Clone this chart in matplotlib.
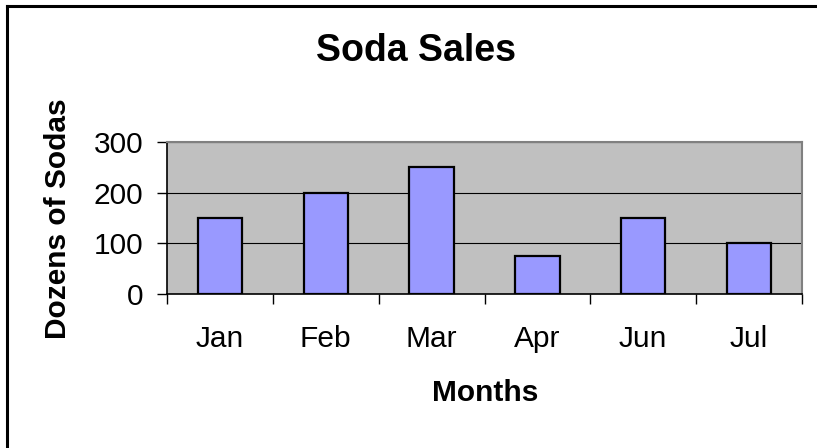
import matplotlib
matplotlib.use("Agg")
import matplotlib.pyplot as plt
from matplotlib.lines import Line2D
import numpy as np

months = ["Jan", "Feb", "Mar", "Apr", "Jun", "Jul"]
sales = [150, 200, 250, 75, 150, 100]
yticks = [0, 100, 200, 300]

plt.rcParams['font.family'] = ['Liberation Sans', 'DejaVu Sans']

W, H = 817, 448
fig = plt.figure(figsize=(W / 100, H / 100), dpi=100)
fig.patch.set_facecolor('white')

left, right, top, bottom = 167, 802, 142, 294
ax = fig.add_axes([left / W, 1 - bottom / H, (right - left) / W, (bottom - top) / H])
ax.set_facecolor('#C0C0C0')

x = np.arange(len(months))
ax.bar(x, sales, width=0.42, color='#9999FF', edgecolor='black', linewidth=1.6, zorder=3)

ax.set_xlim(-0.5, len(months) - 0.5)
ax.set_ylim(0, 300)
ax.set_yticks(yticks)
ax.set_yticklabels([str(v) for v in yticks])
ax.yaxis.grid(True, color='black', linewidth=0.8)
ax.set_axisbelow(True)

ax.set_xticks(x)
ax.set_xticklabels(months)
ax.set_xticks(np.arange(-0.5, len(months)), minor=True)
ax.tick_params(axis='x', which='major', length=0, pad=22, labelsize=21.5)
ax.tick_params(axis='x', which='minor', length=7, width=1, direction='out', color='black')
ax.tick_params(axis='y', length=7, width=1, direction='out', pad=10, labelsize=21.5, color='black')

for s in ['top', 'right']:
    ax.spines[s].set_color('#808080')
    ax.spines[s].set_linewidth(1.5)
for s in ['left', 'bottom']:
    ax.spines[s].set_color('black')
    ax.spines[s].set_linewidth(1.2)

fig.text(416 / W, 1 - 51 / H, "Soda Sales", ha='center', va='center', fontsize=27, fontweight='bold')
fig.text(485 / W, 1 - 393 / H, "Months", ha='center', va='center', fontsize=21.5, fontweight='bold')
fig.text(58 / W, 1 - 219 / H, "Dozens of Sodas", ha='center', va='center', rotation=90, fontsize=21.5, fontweight='bold')

# figure border (left and top visible)
fig.add_artist(Line2D([7 / W, 7 / W], [0, 1 - 6 / H], transform=fig.transFigure, color='black', linewidth=2.2))
fig.add_artist(Line2D([7 / W, 1], [1 - 6 / H, 1 - 6 / H], transform=fig.transFigure, color='black', linewidth=2.2))

fig.savefig("out.png", dpi=100)
